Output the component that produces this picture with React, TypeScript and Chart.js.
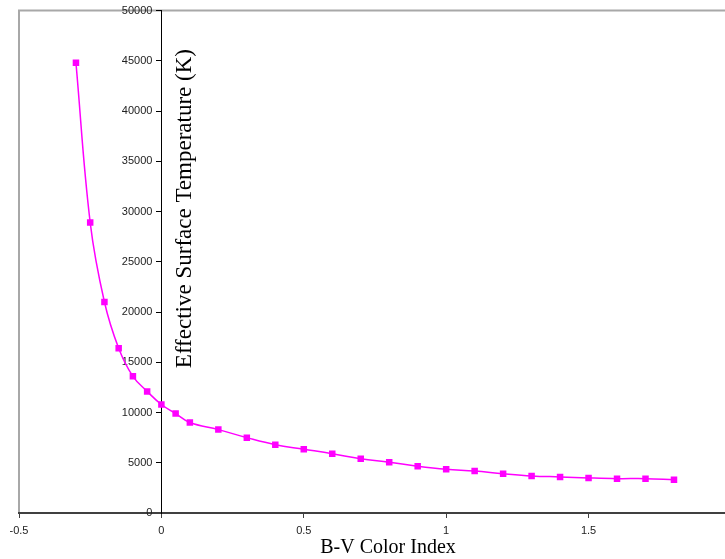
import React, { useEffect, useRef } from "react";
import { Chart, registerables } from "chart.js";

Chart.register(...registerables);

const bvIndex = [
  -0.3, -0.25, -0.2, -0.15, -0.1, -0.05, 0, 0.05, 0.1, 0.2, 0.3, 0.4, 0.5, 0.6,
  0.7, 0.8, 0.9, 1.0, 1.1, 1.2, 1.3, 1.4, 1.5, 1.6, 1.7, 1.8,
];
const temperatures = [
  44800, 28900, 21000, 16400, 13600, 12100, 10800, 9900, 9000, 8300, 7500, 6800,
  6350, 5900, 5400, 5050, 4650, 4350, 4180, 3910, 3690, 3590, 3490, 3420, 3420,
  3320,
];
const xTicks = [-0.5, 0, 0.5, 1, 1.5, 2];
const yTicks = [
  0, 5000, 10000, 15000, 20000, 25000, 30000, 35000, 40000, 45000, 50000,
];
const xTitle = "B-V Color Index";
const yTitle = "Effective Surface Temperature (K)";

const decorPlugin = {
  id: "decor",
  beforeDraw(chart: any) {
    const { ctx, chartArea: a } = chart;
    ctx.save();
    ctx.strokeStyle = "#a8a8a8";
    ctx.lineWidth = 2;
    ctx.beginPath();
    ctx.moveTo(a.left, a.bottom);
    ctx.lineTo(a.left, a.top);
    ctx.lineTo(a.right + 10, a.top);
    ctx.stroke();
    ctx.restore();
  },
  afterDraw(chart: any) {
    const { ctx, chartArea: a, scales } = chart;
    const x0 = scales.x.getPixelForValue(0);
    ctx.save();
    ctx.fillStyle = "#000";
    ctx.textAlign = "center";
    ctx.textBaseline = "alphabetic";
    ctx.font = '20px "Liberation Serif", "Times New Roman", serif';
    ctx.fillText(xTitle, a.left + 369, a.bottom + 40);
    ctx.translate(x0 + 30, a.top + 198);
    ctx.rotate(-Math.PI / 2);
    ctx.font = '23px "Liberation Serif", "Times New Roman", serif';
    ctx.fillText(yTitle, 0, 0);
    ctx.restore();
  },
};

export default function App() {
  const canvasRef = useRef<HTMLCanvasElement | null>(null);

  useEffect(() => {
    const canvas = canvasRef.current;
    if (!canvas) return;
    const chart = new Chart(canvas, {
      type: "scatter",
      data: {
        datasets: [
          {
            data: bvIndex.map((x, i) => ({ x, y: temperatures[i] })),
            showLine: true,
            borderColor: "#ff00ff",
            backgroundColor: "#ff00ff",
            borderWidth: 1.5,
            tension: 0.4,
            pointStyle: "rect",
            pointRadius: 4.6,
            pointHoverRadius: 4.6,
            pointBorderWidth: 0,
          },
        ],
      },
      plugins: [decorPlugin],
      options: {
        responsive: false,
        animation: false,
        events: [],
        layout: { padding: { left: 19, top: 10, right: 6, bottom: 0 } },
        plugins: {
          legend: { display: false },
          tooltip: { enabled: false },
        },
        scales: {
          x: {
            type: "linear",
            position: "bottom",
            min: -0.5,
            max: 2,
            afterBuildTicks: (scale: any) => {
              scale.ticks = xTicks.map((v) => ({ value: v }));
            },
            afterFit: (scale: any) => {
              scale.height = 46;
            },
            grid: {
              drawOnChartArea: false,
              drawTicks: true,
              tickLength: 5,
              color: "#404040",
            },
            border: { display: true, color: "#404040", width: 2 },
            ticks: {
              padding: 6,
              color: "#222",
              font: { family: '"Liberation Sans", Arial, sans-serif', size: 11 },
              callback: (v: any) => String(v),
              maxRotation: 0,
            },
          },
          y: {
            type: "linear",
            position: { x: 0 } as any,
            min: 0,
            max: 50000,
            afterBuildTicks: (scale: any) => {
              scale.ticks = yTicks.map((v) => ({ value: v }));
            },
            afterFit: (scale: any) => {
              scale.width = 0;
            },
            afterUpdate: (scale: any) => {
              if (scale.__patched) return;
              const orig = scale._computeLabelItems;
              if (typeof orig !== "function") return;
              scale.__patched = true;
              scale._computeLabelItems = function (ca: any) {
                const items = orig.call(this, ca);
                return items.map((it: any) => {
                  const t = it.options && it.options.translation;
                  if (!t) return it;
                  return {
                    ...it,
                    options: { ...it.options, translation: [t[0] - 9, t[1]] },
                  };
                });
              };
            },
            grid: {
              drawOnChartArea: false,
              drawTicks: true,
              tickLength: 5,
              color: "#000",
            },
            border: { display: true, color: "#000", width: 1 },
            ticks: {
              padding: 4,
              color: "#222",
              font: { family: '"Liberation Sans", Arial, sans-serif', size: 11 },
              callback: (v: any) => String(v),
            },
          },
        },
      },
    });
    return () => chart.destroy();
  }, []);

  return (
    <div
      style={{
        position: "fixed",
        left: 0,
        top: 0,
        width: 725,
        height: 559,
        overflow: "hidden",
        background: "#fff",
      }}
    >
      <canvas
        ref={canvasRef}
        width={740}
        height={559}
        style={{ display: "block", width: 740, height: 559 }}
      />
    </div>
  );
}
